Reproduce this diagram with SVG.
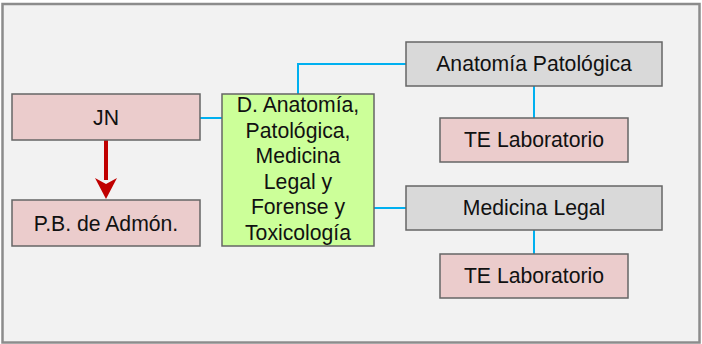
<svg xmlns="http://www.w3.org/2000/svg" width="702" height="344" viewBox="0 0 702 344">
<style>
.box{stroke:#666;stroke-width:1.5}
.pink{fill:#EBCCCC}
.gray{fill:#D9D9D9}
.green{fill:#CCFF99}
text{font-family:"Liberation Sans",Arial,sans-serif;font-size:21.2px;fill:#111;text-anchor:middle}
.conn{stroke:#00B0F0;stroke-width:2;fill:none}
</style>
<rect x="0" y="0" width="702" height="344" fill="#fff"/>
<rect x="2.5" y="4" width="697" height="338.5" fill="#F2F2F2" stroke="#8C8C8C" stroke-width="2.5"/>
<g id="connectors">
<path class="conn" d="M200,118 H222"/>
<path class="conn" d="M298,94 V64 H406"/>
<path class="conn" d="M374,208 H406"/>
<path class="conn" d="M534,86 V118"/>
<path class="conn" d="M534,230 V254"/>
<path d="M106,140 V180" stroke="#C00000" stroke-width="4" fill="none"/>
<path d="M95,178 L106,184 L117,178 L106,199 Z" fill="#C00000"/>
</g>
<g id="jn"><rect class="box pink" x="12" y="94" width="188" height="46"/><text x="106" y="124.5">JN</text></g>
<g id="pb"><rect class="box pink" x="12" y="200" width="188" height="46"/><text x="106" y="230.5">P.B. de Admón.</text></g>
<g id="dept"><rect class="box green" x="222" y="94" width="152" height="152"/>
<text x="298" y="112">D. Anatomía,</text>
<text x="298" y="137.5">Patológica,</text>
<text x="298" y="163">Medicina</text>
<text x="298" y="188.5">Legal y</text>
<text x="298" y="214">Forense y</text>
<text x="298" y="239.5">Toxicología</text>
</g>
<g id="anat"><rect class="box gray" x="406" y="42" width="256" height="44"/><text x="534" y="71">Anatomía Patológica</text></g>
<g id="te1"><rect class="box pink" x="440" y="118" width="188" height="44"/><text x="534" y="147">TE Laboratorio</text></g>
<g id="medleg"><rect class="box gray" x="406" y="186" width="256" height="44"/><text x="534" y="215">Medicina Legal</text></g>
<g id="te2"><rect class="box pink" x="440" y="254" width="188" height="44"/><text x="534" y="283">TE Laboratorio</text></g>
</svg>
